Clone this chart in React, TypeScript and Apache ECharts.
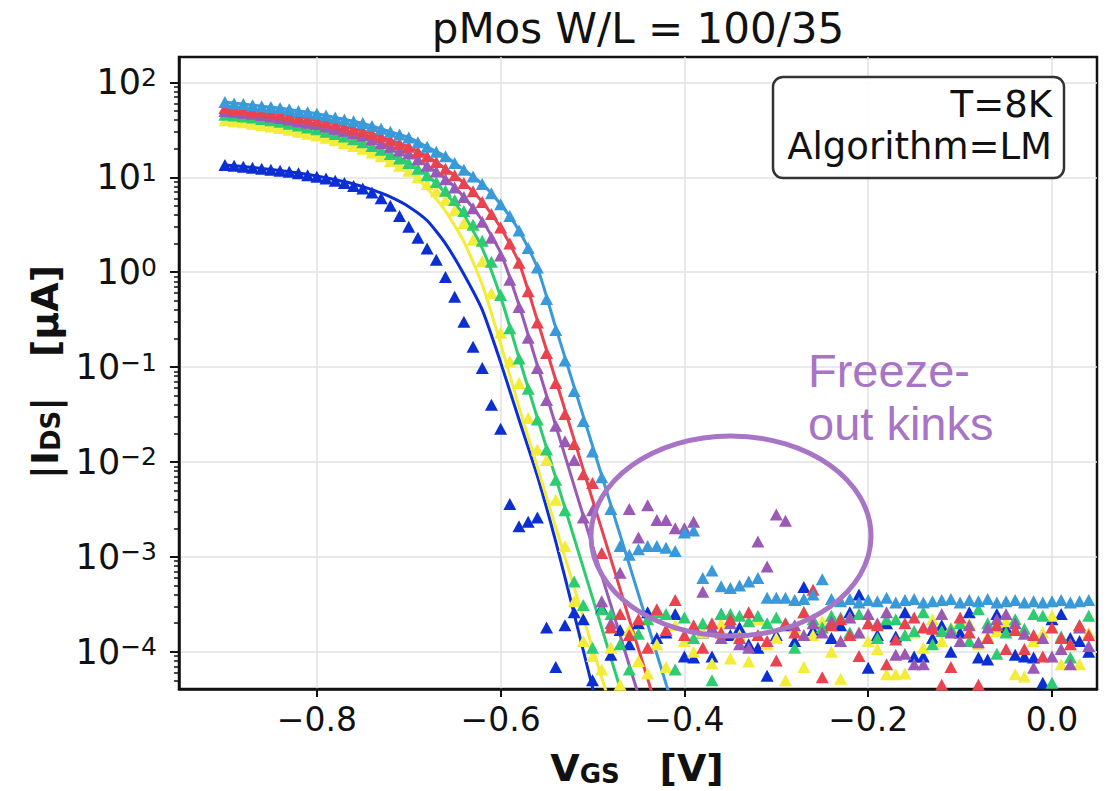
import React, { useEffect, useRef } from 'react';
import * as echarts from 'echarts';

// Gate voltage of the measured points [V]
const vgs = [
  -0.90, -0.89, -0.88, -0.87, -0.86, -0.85, -0.84, -0.83, -0.82, -0.81,
  -0.80, -0.79, -0.78, -0.77, -0.76, -0.75, -0.74, -0.73, -0.72, -0.71,
  -0.70, -0.69, -0.68, -0.67, -0.66, -0.65, -0.64, -0.63, -0.62, -0.61,
  -0.60, -0.59, -0.58, -0.57, -0.56, -0.55, -0.54, -0.53, -0.52, -0.51,
  -0.50, -0.49, -0.48, -0.47, -0.46, -0.45, -0.44, -0.43, -0.42, -0.41,
  -0.40, -0.39, -0.38, -0.37, -0.36, -0.35, -0.34, -0.33, -0.32, -0.31,
  -0.30, -0.29, -0.28, -0.27, -0.26, -0.25, -0.24, -0.23, -0.22, -0.21,
  -0.20, -0.19, -0.18, -0.17, -0.16, -0.15, -0.14, -0.13, -0.12, -0.11,
  -0.10, -0.09, -0.08, -0.07, -0.06, -0.05, -0.04, -0.03, -0.02, -0.01,
  0.00, 0.01, 0.02, 0.03, 0.04,
];

// measured |I_DS| [uA]
const lightBlueMeas = [
  62, 60, 59, 57.5, 56, 55, 53.7, 52, 50, 48.4,
  46.8, 44.7, 42.7, 40.7, 38.9, 37.2, 34.7, 32.4, 30.2, 28.2,
  26.3, 23.4, 20.9, 18.6, 16.6, 14.1, 12.0, 10.2, 8.5, 6.8,
  5.2, 3.9, 2.75, 1.8, 1.12, 0.52, 0.245, 0.117, 0.056, 0.027,
  0.0129, 6.9e-3, 3.2e-3, 1.3e-3, 1.05e-3, 1.2e-3, 1.3e-3, 1.3e-3, 1.25e-3, 1.15e-3,
  1.8e-3, 1.9e-3, 6.0e-4, 7.2e-4, 4.9e-4, 4.7e-4, 5.0e-4, 5.5e-4, 6.0e-4, 3.7e-4,
  3.7e-4, 3.7e-4, 3.5e-4, 3.6e-4, 4.0e-4, 5.8e-4, 3.6e-4, 3.4e-4, 3.6e-4, 3.3e-4,
  3.5e-4, 3.4e-4, 3.7e-4, 3.3e-4, 3.5e-4, 3.6e-4, 3.3e-4, 3.4e-4, 3.5e-4, 3.6e-4,
  3.3e-4, 3.5e-4, 3.4e-4, 3.6e-4, 3.3e-4, 3.4e-4, 3.5e-4, 3.3e-4, 3.4e-4, 3.3e-4,
  3.4e-4, 3.5e-4, 3.3e-4, 3.4e-4, 3.5e-4,
];
const redMeas = [
  53.7, 52.5, 51.3, 50, 49, 47.9, 46.2, 44.7, 43.2, 41.7,
  39.8, 38, 36.3, 34.3, 32.4, 30.9, 28.8, 26.9, 24.5, 22.6,
  20.9, 18.6, 16.6, 14.5, 12.3, 10.5, 8.7, 7.1, 5.5, 4.1,
  2.95, 2.0, 1.26, 0.63, 0.295, 0.141, 0.068, 0.032, 0.0155, 7.4e-3,
  6.0e-3, 1.1e-3, 1.8e-4, 2.5e-4, 1.5e-4, 2.2e-4, 1.1e-4, 2.8e-4, 1.7e-4, 3.5e-4,
  1.5e-4, 1.9e-4, 1.1e-4, 2.0e-4, 1.6e-4, 2.2e-4, 1.4e-4, 2.6e-4, 1.5e-4, 1.3e-4,
  8.1e-5, 2.0e-4, 1.6e-4, 2.6e-4, 4.5e-4, 5.4e-5, 1.9e-4, 2.2e-4, 1.5e-4, 9.0e-5,
  2.0e-4, 1.9e-4, 7.4e-5, 1.35e-4, 2.0e-4, 2.3e-4, 1.8e-4, 1.75e-4, 4.5e-5, 6.9e-5,
  2.3e-4, 1.6e-4, 4.5e-5, 1.4e-4, 1.9e-4, 1.07e-4, 1.7e-4, 1.07e-4, 1.5e-4, 8.9e-5,
  1.8e-4, 1.4e-4, 1.2e-4, 1.9e-4, 1.5e-4,
];
const purpleMeas = [
  50, 49, 47.9, 46.8, 45.2, 43.7, 42.2, 40.7, 38.9, 37.6,
  36.3, 34.3, 32.4, 30.9, 29.2, 27.5, 25.1, 22.9, 20.9, 19.1,
  17.8, 15.5, 13.2, 11.5, 9.5, 7.8, 6.2, 4.7, 3.4, 2.3,
  1.5, 0.83, 0.43, 0.204, 0.098, 0.045, 0.024, 0.0165, 0.0105, 2.6e-3,
  3.1e-3, 3.4e-4, 2.0e-4, 6.8e-4, 3.2e-3, 1.6e-3, 3.5e-3, 2.45e-3, 2.45e-3, 2.0e-3,
  2.0e-3, 2.35e-3, 4.3e-4, 1.8e-4, 1.4e-4, 2.0e-4, 1.2e-4, 1.1e-4, 1.45e-3, 7.9e-4,
  2.8e-3, 2.4e-3, 1.9e-4, 1.5e-4, 2.0e-4, 1.6e-4, 2.1e-4, 1.3e-4, 2.3e-4, 1.6e-4,
  2.5e-4, 2.0e-4, 2.6e-4, 9.3e-5, 9.5e-5, 7.4e-5, 7.4e-5, 1.9e-4, 2.5e-4, 1.6e-4,
  1.3e-4, 1.9e-4, 1.26e-4, 1.8e-4, 2.2e-4, 2.5e-4, 2.0e-4, 1.55e-4, 6.8e-5, 1.4e-4,
  8.9e-5, 1.07e-4, 7.4e-5, 1.8e-4, 1.15e-4,
];
const greenMeas = [
  45.7, 44.7, 43.7, 42.7, 41.2, 39.8, 38.5, 36.7, 35.1, 33.5,
  32, 30.2, 28.5, 26.9, 25.1, 23.4, 21.4, 19.5, 17.6, 15.8,
  14.1, 12.3, 10.5, 8.9, 7.2, 5.75, 4.4, 3.16, 2.14, 1.29,
  0.575, 0.257, 0.123, 0.059, 0.028, 0.0135, 6.5e-3, 3.1e-3, 5.5e-4, 3.1e-4,
  1.1e-4, 2.8e-4, 2.5e-4, 1.2e-4, 6.5e-5, 1.55e-4, 2.2e-4, 2.6e-4, 2.5e-4, 6.5e-5,
  2.3e-4, 1.4e-4, 2.0e-4, 5.0e-5, 2.5e-4, 2.5e-4, 2.4e-4, 2.1e-4, 2.4e-4, 2.0e-4,
  2.3e-4, 2.0e-4, 1.1e-4, 2.6e-4, 2.2e-4, 1.8e-4, 2.4e-4, 2.3e-4, 1.6e-4, 2.5e-4,
  2.0e-4, 1.4e-4, 2.2e-4, 2.2e-4, 1.5e-4, 1.65e-4, 2.6e-4, 1.2e-4, 1.65e-4, 1.75e-4,
  2.0e-4, 1.3e-4, 2.8e-4, 2.0e-4, 9.5e-5, 1.6e-4, 2.2e-4, 1.75e-4, 2.5e-4, 2.4e-4,
  4.7e-5, 1.45e-4, 8.7e-5, 1.9e-4, 2.4e-4,
];
const yellowMeas = [
  39.8, 38.9, 38, 36.7, 35.5, 34.3, 33.1, 31.6, 30.2, 28.8,
  27.5, 26, 24.5, 22.9, 21.4, 20, 18.2, 16.6, 14.8, 13.2,
  11.7, 10, 8.5, 7.1, 5.75, 4.5, 3.3, 2.2, 1.3, 0.6,
  0.23, 0.115, 0.068, 0.029, 0.0135, 0.0105, 4.0e-3, 1.3e-3, 3.4e-4, 1.3e-4,
  9.0e-5, 6.5e-5, 1.1e-4, 4.5e-5, 1.7e-4, 8.0e-5, 5.9e-5, 1.2e-4, 6.9e-5, 1.9e-4,
  1.3e-4, 1.0e-4, 1.6e-4, 7.5e-5, 2.0e-4, 8.5e-5, 1.5e-4, 7.9e-5, 2.2e-4, 1.2e-4,
  1.4e-4, 5.0e-5, 1.8e-4, 6.9e-5, 1.5e-4, 2.1e-4, 1.0e-4, 5.2e-5, 2.3e-4, 1.6e-4,
  1.3e-4, 1.07e-4, 5.8e-5, 5.8e-5, 5.9e-5, 1.6e-4, 1.1e-4, 2.2e-4, 1.3e-4, 1.8e-4,
  2.1e-4, 2.0e-4, 1.2e-4, 1.45e-4, 1.65e-4, 2.1e-4, 5.8e-5, 5.5e-5, 1.3e-4, 1.6e-4,
  2.4e-4, 7.4e-5, 1.2e-4, 7.4e-5, 1.6e-4,
];
const darkBlueMeas = [
  13.5, 13.2, 12.9, 12.6, 12.3, 12.0, 11.7, 11.4, 11.0, 10.5,
  10.1, 9.7, 9.2, 8.7, 8.1, 7.6, 6.9, 6.0, 5.0, 3.9,
  3.0, 2.3, 1.78, 1.35, 0.89, 0.55, 0.30, 0.164, 0.098, 0.04,
  0.0224, 3.6e-3, 2.1e-3, 2.35e-3, 2.6e-3, 1.8e-4, 6.9e-5, 1.9e-4, 2.6e-4, 2.2e-4,
  5.0e-5, 2.9e-4, 9.3e-5, 1.7e-4, 1.2e-4, 2.0e-4, 2.6e-4, 1.4e-4, 1.6e-4, 2.5e-4,
  8.9e-5, 8.7e-5, 1.6e-4, 8.9e-5, 2.5e-4, 1.5e-4, 1.8e-4, 1.2e-4, 1.1e-4, 5.6e-5,
  1.5e-4, 1.9e-4, 1.3e-4, 4.8e-4, 1.7e-4, 2.0e-4, 1.4e-4, 1.9e-4, 2.6e-4, 4.0e-4,
  6.8e-5, 1.5e-4, 2.0e-4, 1.45e-4, 2.6e-4, 8.9e-5, 8.9e-5, 1.4e-4, 1.9e-4, 1.0e-4,
  1.6e-4, 2.6e-4, 8.7e-5, 8.3e-5, 2.5e-4, 1.8e-4, 9.3e-5, 8.9e-5, 8.7e-5, 4.7e-5,
  2.2e-4, 2.5e-4, 1.4e-4, 1.3e-4, 1.0e-4,
];

// model fit curves
const fitV = [
  -0.90, -0.88, -0.86, -0.84, -0.82, -0.80, -0.78, -0.76, -0.74, -0.72,
  -0.70, -0.68, -0.66, -0.64, -0.62, -0.60, -0.58, -0.56, -0.54, -0.52,
  -0.50, -0.48, -0.46, -0.44, -0.42, -0.40,
];
const lightBlueFit = [
  62, 59, 56, 53.7, 50, 46.8, 42.7, 38.9, 34.7, 30.2,
  26.3, 20.9, 16.6, 12.0, 8.5, 5.2, 2.75, 1.12, 0.26, 0.062,
  0.0148, 3.5e-3, 8.3e-4, 1.95e-4, 4.6e-5, 1.1e-5,
];
const redFit = [
  53.7, 51.3, 49, 46.2, 43.2, 39.8, 36.3, 32.4, 28.8, 24.5,
  20.9, 16.6, 12.3, 8.7, 5.5, 2.95, 1.26, 0.31, 0.073, 0.0172,
  4.0e-3, 9.5e-4, 2.2e-4, 5.2e-5, 1.2e-5, 2.9e-6,
];
const purpleFit = [
  50, 47.9, 45.2, 42.2, 38.9, 36.3, 32.4, 29.2, 25.1, 20.9,
  17.8, 13.2, 9.7, 6.2, 3.5, 1.6, 0.45, 0.104, 0.0242, 5.6e-3,
  1.3e-3, 3.1e-4, 7.2e-5, 1.7e-5, 3.9e-6, 9e-7,
];
const greenFit = [
  45.7, 43.7, 41.2, 38.5, 35.1, 32, 28.5, 25.1, 21.4, 17.6,
  14.1, 10.5, 6.8, 4.0, 1.78, 0.55, 0.125, 0.029, 6.8e-3, 1.58e-3,
  3.7e-4, 8.6e-5, 2.0e-5, 4.7e-6, 1.1e-6, 2.6e-7,
];
const yellowFit = [
  39.8, 38, 35.5, 33.1, 30.2, 27.5, 24.5, 21.4, 18.2, 14.8,
  11.7, 7.6, 4.4, 2.1, 0.74, 0.176, 0.038, 8.8e-3, 2.05e-3, 4.8e-4,
  1.1e-4, 2.6e-5, 6e-6, 1.4e-6, 3.3e-7, 8e-8,
];
const darkBlueFit = [
  13.5, 13.0, 12.4, 11.8, 11.1, 10.3, 9.4, 8.5, 7.4, 6.2,
  4.9, 3.5, 2.0, 0.95, 0.40, 0.112, 0.028, 7.1e-3, 1.45e-3, 2.5e-4,
  4.2e-5, 7e-6, 1.2e-6, 2e-7, 3e-8, 5e-9,
];

const xTicks = [-0.8, -0.6, -0.4, -0.2, 0.0];
const yTicks = [1e-4, 1e-3, 1e-2, 1e-1, 1, 10, 100];
const yMinorTicks = [
  5e-5, 6e-5, 7e-5, 8e-5, 9e-5,
  2e-4, 3e-4, 4e-4, 5e-4, 6e-4, 7e-4, 8e-4, 9e-4,
  2e-3, 3e-3, 4e-3, 5e-3, 6e-3, 7e-3, 8e-3, 9e-3,
  2e-2, 3e-2, 4e-2, 5e-2, 6e-2, 7e-2, 8e-2, 9e-2,
  0.2, 0.3, 0.4, 0.5, 0.6, 0.7, 0.8, 0.9,
  2, 3, 4, 5, 6, 7, 8, 9,
  20, 30, 40, 50, 60, 70, 80, 90,
];

const COLORS = {
  darkBlue: '#0b2fd3',
  yellow: '#f3ec38',
  green: '#2ecc71',
  purple: '#9b59b6',
  red: '#e8434f',
  lightBlue: '#3a9ad9',
};
const ANNOT = '#a874c6';
const FONT = 'DejaVu Sans';

const X_MIN = -0.95;
const X_MAX = 0.049;
const Y_MIN = 4.05e-5;
const Y_MAX = 185;

export default function App() {
  const ref = useRef<HTMLDivElement>(null);

  useEffect(() => {
    document.body.style.margin = '0';
    const chart = echarts.init(ref.current as HTMLDivElement, null, { renderer: 'svg' });

    const groups = [
      { name: 'dark blue', color: COLORS.darkBlue, meas: darkBlueMeas, fit: darkBlueFit },
      { name: 'yellow', color: COLORS.yellow, meas: yellowMeas, fit: yellowFit },
      { name: 'green', color: COLORS.green, meas: greenMeas, fit: greenFit },
      { name: 'purple', color: COLORS.purple, meas: purpleMeas, fit: purpleFit },
      { name: 'red', color: COLORS.red, meas: redMeas, fit: redFit },
      { name: 'light blue', color: COLORS.lightBlue, meas: lightBlueMeas, fit: lightBlueFit },
    ];

    const lineSeries = groups.map((g) => ({
      type: 'line',
      name: g.name + ' fit',
      data: fitV.map((v, i) => [v, g.fit[i]]),
      showSymbol: false,
      smooth: 0.2,
      clip: true,
      lineStyle: { color: g.color, width: 3 },
      z: 2,
      silent: true,
    }));
    const scatterSeries = groups.map((g) => ({
      type: 'scatter',
      name: g.name,
      data: vgs.map((v, i) => [v, g.meas[i]]),
      symbol: 'triangle',
      symbolSize: [13, 12],
      itemStyle: { color: g.color, opacity: 1 },
      z: 3,
      silent: true,
    }));

    const supText = (e: number) => (e < 0 ? '\u2212' + String(-e) : String(e));

    chart.setOption({
      animation: false,
      backgroundColor: '#ffffff',
      grid: {
        left: 179,
        right: 17,
        top: 57,
        bottom: 102,
        show: true,
        borderColor: '#111',
        borderWidth: 2.5,
        outerBoundsMode: 'none',
      },
      xAxis: {
        type: 'value',
        min: X_MIN,
        max: X_MAX,
        axisLine: { show: true, onZero: false, lineStyle: { color: '#111', width: 2.5 } },
        axisTick: { show: true, length: 8, customValues: xTicks, lineStyle: { color: '#111', width: 2 } },
        axisLabel: {
          customValues: xTicks,
          fontSize: 33,
          fontFamily: FONT,
          color: '#111',
          margin: 14,
          formatter: (v: number) => (Math.abs(v) < 1e-9 ? '0.0' : (v < 0 ? '\u2212' : '') + Math.abs(v).toFixed(1)),
        },
        splitLine: { show: true, lineStyle: { color: '#e2e2e2', width: 1.5 } },
      },
      yAxis: [
        {
          type: 'log',
          logBase: 10,
          min: Y_MIN,
          max: Y_MAX,
          position: 'left',
          axisLine: { show: true, onZero: false, lineStyle: { color: '#111', width: 2.5 } },
          axisTick: { show: true, length: 9, customValues: yTicks, lineStyle: { color: '#111', width: 2 } },
          axisLabel: {
            customValues: yTicks,
            margin: 22,
            color: '#111',
            formatter: (v: number) => '{b|10}{s|' + supText(Math.round(Math.log10(v))) + '}',
            rich: {
              b: { fontSize: 35, fontFamily: FONT, color: '#111' },
              s: { fontSize: 25, fontFamily: FONT, color: '#111', verticalAlign: 'top' },
            },
          },
          splitLine: { show: true, lineStyle: { color: '#e2e2e2', width: 1.5 } },
        },
        {
          type: 'log',
          logBase: 10,
          min: Y_MIN,
          max: Y_MAX,
          position: 'left',
          axisLine: { show: false, onZero: false },
          axisLabel: { show: false },
          splitLine: { show: false },
          axisTick: { show: true, length: 5, customValues: yMinorTicks, lineStyle: { color: '#111', width: 1.5 } },
        },
      ],
      series: [...lineSeries, ...scatterSeries],
      graphic: [
        {
          type: 'text',
          x: 638,
          y: 28.5,
          z: 100,
          style: { text: 'pMos W/L = 100/35', fontSize: 42, fontFamily: FONT, fill: '#111', align: 'center', verticalAlign: 'middle' },
        },
        {
          type: 'rect',
          z: 100,
          shape: { x: 773, y: 77, width: 291, height: 101, r: 10 },
          style: { fill: 'rgba(255,255,255,0.9)', stroke: '#333', lineWidth: 2.5 },
        },
        {
          type: 'text',
          x: 1052,
          y: 104,
          z: 101,
          style: { text: 'T=8K', fontSize: 37, fontFamily: FONT, fill: '#111', align: 'right', verticalAlign: 'middle' },
        },
        {
          type: 'text',
          x: 1052,
          y: 146.5,
          z: 101,
          style: { text: 'Algorithm=LM', fontSize: 37, fontFamily: FONT, fill: '#111', align: 'right', verticalAlign: 'middle' },
        },
        {
          type: 'ellipse',
          z: 100,
          shape: { cx: 731, cy: 536, rx: 140, ry: 100 },
          style: { fill: 'none', stroke: ANNOT, lineWidth: 5 },
        },
        {
          type: 'text',
          x: 808,
          y: 370,
          z: 100,
          style: { text: 'Freeze-', fontSize: 47, fontFamily: 'Liberation Sans', fill: ANNOT, align: 'left', verticalAlign: 'middle' },
        },
        {
          type: 'text',
          x: 808,
          y: 423.5,
          z: 100,
          style: { text: 'out kinks', fontSize: 47, fontFamily: 'Liberation Sans', fill: ANNOT, align: 'left', verticalAlign: 'middle' },
        },
        {
          type: 'text',
          x: 637,
          y: 768,
          z: 100,
          style: {
            text: '{b|V}{sub|GS}{b|   [V]}',
            align: 'center',
            verticalAlign: 'middle',
            rich: {
              b: { fontSize: 38, fontWeight: 'bold', fontFamily: FONT, fill: '#111', color: '#111' },
              sub: { fontSize: 26, fontWeight: 'bold', fontFamily: FONT, fill: '#111', color: '#111', verticalAlign: 'bottom' },
            },
          },
        },
        {
          type: 'text',
          x: 45,
          y: 372,
          rotation: Math.PI / 2,
          z: 100,
          style: {
            text: '{b||I}{sub|DS}{b||   [µA]}',
            align: 'center',
            verticalAlign: 'middle',
            rich: {
              b: { fontSize: 38, fontWeight: 'bold', fontFamily: FONT, fill: '#111', color: '#111' },
              sub: { fontSize: 26, fontWeight: 'bold', fontFamily: FONT, fill: '#111', color: '#111', verticalAlign: 'bottom' },
            },
          },
        },
      ],
    });

    return () => {
      chart.dispose();
    };
  }, []);

  return <div ref={ref} style={{ width: 1114, height: 791 }} />;
}
